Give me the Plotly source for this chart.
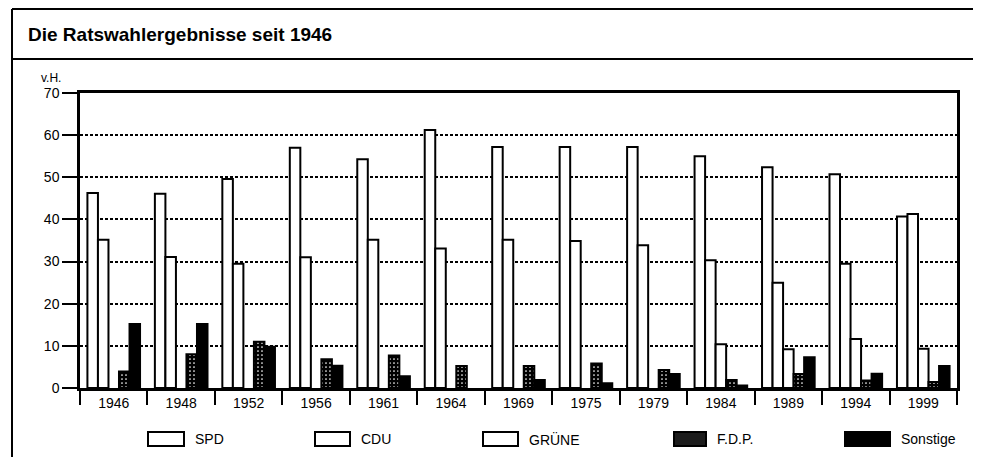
import plotly.graph_objects as go

years = ["1946", "1948", "1952", "1956", "1961", "1964", "1969",
         "1975", "1979", "1984", "1989", "1994", "1999"]
spd = [46.3, 46.1, 49.6, 57.0, 54.3, 61.2, 57.2, 57.2, 57.2, 55.0, 52.4, 50.7, 40.7]
cdu = [35.2, 31.1, 29.5, 31.0, 35.2, 33.1, 35.2, 34.9, 33.9, 30.3, 25.0, 29.5, 41.3]
gruene = [None, None, None, None, None, None, None, None, None, 10.4, 9.2, 11.6, 9.3]
fdp = [3.9, 8.0, 11.0, 6.8, 7.7, 5.2, 5.2, 5.8, 4.3, 1.9, 3.3, 1.8, 1.4]
sonstige = [15.2, 15.2, 9.8, 5.3, 2.8, None, 1.9, 1.1, 3.3, 0.6, 7.3, 3.4, 5.2]

y_ticks = [0, 10, 20, 30, 40, 50, 60, 70]

FONT = "Liberation Sans, Arial, Helvetica, sans-serif"
OFF = 8  # page body margin
W, H = 981 - OFF, 457 - OFF
# plot area in page pixels
PL, PR, PT, PB = 80, 957, 93, 388
L, R, T, B = PL - OFF, PR - OFF, PT - OFF, PB - OFF


def px(x):
    return (x - PL) / (PR - PL)


def py(y):
    return (PB - y) / (PB - PT)


fig = go.Figure()
line = dict(color="black", width=2)
fig.add_bar(x=years, y=spd, name="SPD", marker=dict(color="white", line=line))
fig.add_bar(x=years, y=cdu, name="CDU", marker=dict(color="white", line=line))
fig.add_bar(x=years, y=gruene, name="GRÜNE", marker=dict(color="white", line=line))
fig.add_bar(x=years, y=fdp, name="F.D.P.",
            marker=dict(color="black", line=line,
                        pattern=dict(shape=".", fgcolor="white", bgcolor="black",
                                     size=4, solidity=0.15, fillmode="replace")))
fig.add_bar(x=years, y=sonstige, name="Sonstige", marker=dict(color="black", line=line))

fig.update_layout(
    width=W, height=H,
    margin=dict(l=L, r=W - R, t=T, b=H - B),
    paper_bgcolor="white", plot_bgcolor="white",
    barmode="group", bargap=0.22, bargroupgap=0,
    showlegend=False,
    font=dict(family=FONT, color="black", size=13),
)
fig.update_xaxes(
    type="category", tickson="boundaries", ticks="outside", ticklen=14,
    tickwidth=2, tickcolor="black", showline=True, linecolor="black",
    linewidth=2.5, mirror=True, showgrid=False, tickfont=dict(size=14),
)
fig.update_yaxes(
    range=[0, 70], tickvals=y_ticks, ticks="outside", ticklen=15, tickwidth=2,
    tickcolor="black", showline=True, linecolor="black", linewidth=2.5,
    mirror=True, showgrid=True, gridcolor="black", gridwidth=1.5,
    griddash="3px,2px", zeroline=False, tickfont=dict(size=14),
)

shapes = []
# frame lines (page pixel coordinates)
shapes.append(dict(type="line", xref="paper", yref="paper", x0=px(12), x1=px(990),
                   y0=py(9), y1=py(9), line=dict(color="black", width=2)))
shapes.append(dict(type="line", xref="paper", yref="paper", x0=px(12), x1=px(990),
                   y0=py(59), y1=py(59), line=dict(color="black", width=2)))
shapes.append(dict(type="line", xref="paper", yref="paper", x0=px(12), x1=px(12),
                   y0=py(9), y1=py(470), line=dict(color="black", width=2)))

annotations = [
    dict(text="<b>Die Ratswahlergebnisse seit 1946</b>", xref="paper", yref="paper",
         x=px(26), y=py(34), xanchor="left", yanchor="middle", showarrow=False,
         font=dict(size=19, family=FONT)),
    dict(text="v.H.", xref="paper", yref="paper", x=px(63), y=py(78),
         xanchor="right", yanchor="middle", showarrow=False, font=dict(size=12)),
]

legend_items = [
    ("SPD", 148, 184, "white"),
    ("CDU", 315, 350, "white"),
    ("GRÜNE", 483, 518, "white"),
    ("F.D.P.", 674, 706, "#1c1c1c"),
    ("Sonstige", 845, 890, "black"),
]
for name, x0, x1, fill in legend_items:
    shapes.append(dict(type="rect", xref="paper", yref="paper",
                       x0=px(x0), x1=px(x1), y0=py(432), y1=py(446),
                       fillcolor=fill, line=dict(color="black", width=2)))
    annotations.append(dict(text=name, xref="paper", yref="paper",
                            x=px(x1 + 9), y=py(439), xanchor="left",
                            yanchor="middle", showarrow=False,
                            font=dict(size=14)))

fig.update_layout(shapes=shapes, annotations=annotations)
fig.write_html("out.html")
